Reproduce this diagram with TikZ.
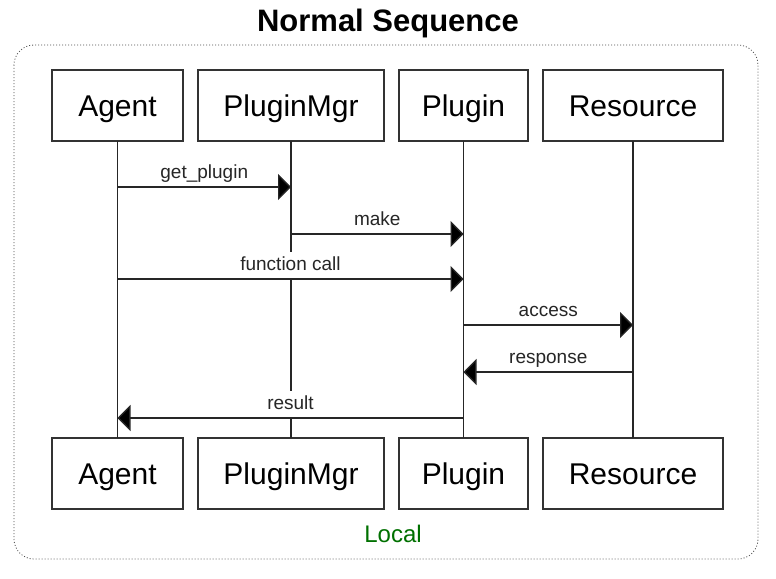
\documentclass[tikz,border=0pt]{standalone}
\usepackage{fontspec}
\setmainfont{Liberation Sans}
\usetikzlibrary{arrows.meta}
\usetikzlibrary{positioning}
\definecolor{boxline}{RGB}{51,51,51}
\definecolor{localgreen}{RGB}{0,112,0}
\tikzset{
    actor/.style={
           rectangle,
           draw=boxline, line width=1.5pt,
           minimum height=71pt,
           inner sep=0pt, outer sep=0pt,
           text height=22pt, text depth=0pt,
           font=\fontsize{30}{36}\selectfont,
           text centered,
           },
    lifeline/.style={draw=black!85, line width=1.3pt},
    msg/.style={draw=black!85, line width=1.3pt,
           -{Triangle[length=13pt,width=26pt,fill=black]}},
    lbl/.style={above, fill=white, inner sep=4pt,
           text height=14pt, text depth=4pt,
           font=\fontsize{19}{22}\selectfont, text=black!85},
}

\begin{document}
\begin{tikzpicture}[x=1pt,y=-1pt]
 \useasboundingbox (0,0) rectangle (776,578);

 % dotted frame round the whole sequence
 \draw[black!70, line width=0.8pt, dash pattern=on 1pt off 2pt,
  rounded corners=20pt] (14,45) rectangle (758,559);
 \node[font=\bfseries\fontsize{31}{36}\selectfont, anchor=base] (title)
  at (388,32) {Normal Sequence};

 % top row of actors, 15pt apart
 \node[actor, minimum width=131pt] (agentTop) at (117.5,105.5) {Agent};
 \node[actor, minimum width=186pt, right=15pt of agentTop] (mgrTop) {PluginMgr};
 \node[actor, minimum width=129pt, right=15pt of mgrTop] (pluginTop) {Plugin};
 \node[actor, minimum width=180pt, right=15pt of pluginTop] (resTop) {Resource};

 % bottom row, same actors again
 \node[actor, minimum width=131pt, below=297pt of agentTop] (agentBot) {Agent};
 \node[actor, minimum width=186pt, below=297pt of mgrTop] (mgrBot) {PluginMgr};
 \node[actor, minimum width=129pt, below=297pt of pluginTop] (pluginBot) {Plugin};
 \node[actor, minimum width=180pt, below=297pt of resTop] (resBot) {Resource};

 \node[text=localgreen, font=\fontsize{24}{28}\selectfont, anchor=base] (local)
  at (393,542) {Local};

 % lifelines
 \foreach \a in {agent,mgr,plugin,res}
  \draw[lifeline] (\a Top) -- (\a Bot);

 % heights of the messages
 \coordinate (getY) at (0,187);
 \coordinate (makeY) at (0,234);
 \coordinate (callY) at (0,279);
 \coordinate (accessY) at (0,325);
 \coordinate (respY) at (0,372);
 \coordinate (resultY) at (0,418);

 % messages, labels on white so they cut the lifelines
 \draw[msg] (agentTop |- getY) -- node[lbl] {get\_plugin} (mgrTop |- getY);
 \draw[msg] (mgrTop |- makeY) -- node[lbl] {make} (pluginTop |- makeY);
 \draw[msg] (agentTop |- callY) -- node[lbl] {function call} (pluginTop |- callY);
 \draw[msg] (pluginTop |- accessY) -- node[lbl] {access} (resTop |- accessY);
 \draw[msg] (resTop |- respY) -- node[lbl] {response} (pluginTop |- respY);
 \draw[msg] (pluginTop |- resultY) -- node[lbl] {result} (agentTop |- resultY);
\end{tikzpicture}
\end{document}
